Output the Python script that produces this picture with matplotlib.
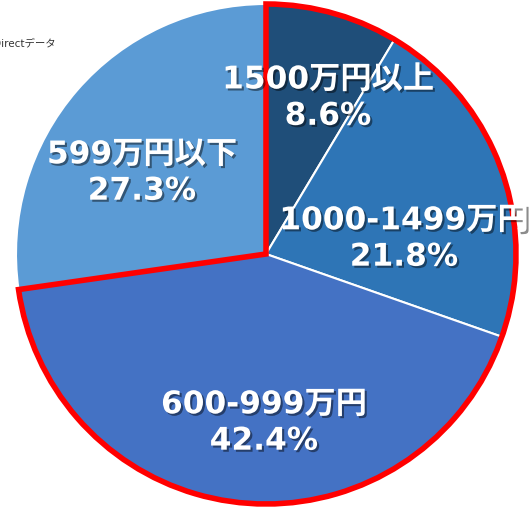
import matplotlib
matplotlib.use("Agg")
import matplotlib.pyplot as plt
import matplotlib.patheffects as pe
from matplotlib.patches import Wedge

# data (clockwise from 12 o'clock)
categories = ["1500万円以上", "1000-1499万円", "600-999万円", "599万円以下"]
shares = [8.6, 21.8, 42.4, 27.3]
colors = ["#1F4E79", "#2E75B6", "#4472C4", "#5B9BD5"]
highlighted = 3  # first three slices get the red outline
source_note = "QUICK Directデータ"

# layout (pixel space of the 531x510 canvas, y up)
W, H = 531, 510
CENTER = (266, 255)
RADIUS = 250
label_pos = [(328, 411), (404, 270), (264, 86), (142, 336)]

plt.rcParams["font.family"] = ["DejaVu Sans", "Noto Sans CJK JP"]

fig = plt.figure(figsize=(W / 100, H / 100), dpi=100, facecolor="white")
ax = fig.add_axes([0, 0, 1, 1])

wedges, _ = ax.pie(
    shares,
    colors=colors,
    startangle=90,
    counterclock=False,
    center=CENTER,
    radius=RADIUS,
    wedgeprops=dict(edgecolor="white", linewidth=1.5),
    normalize=True,
)

# red outline around the highlighted group
total = sum(shares)
span = sum(shares[:highlighted]) / total * 360
ax.add_patch(Wedge(CENTER, RADIUS, 90 - span, 90, facecolor="none",
                   edgecolor="#FF0000", linewidth=4, joinstyle="miter", zorder=5))

shadow = [pe.SimplePatchShadow(offset=(1.5, -1.5), alpha=0.45, shadow_rgbFace="black"),
          pe.Normal()]
for cat, val, (x, y) in zip(categories, shares, label_pos):
    ax.text(x, y, f"{cat}\n{val:.1f}%", ha="center", va="center",
            fontsize=22.5, fontweight="bold", color="white",
            linespacing=1.32, zorder=6, path_effects=shadow)

# source note runs off the left edge, as in the original
ax.text(56, H - 44, source_note, ha="right", va="center", fontsize=7.5, color="#333333")

ax.set_xlim(0, W)
ax.set_ylim(0, H)
ax.set_aspect("equal")
ax.axis("off")

fig.savefig("out.png", dpi=100, facecolor="white")
